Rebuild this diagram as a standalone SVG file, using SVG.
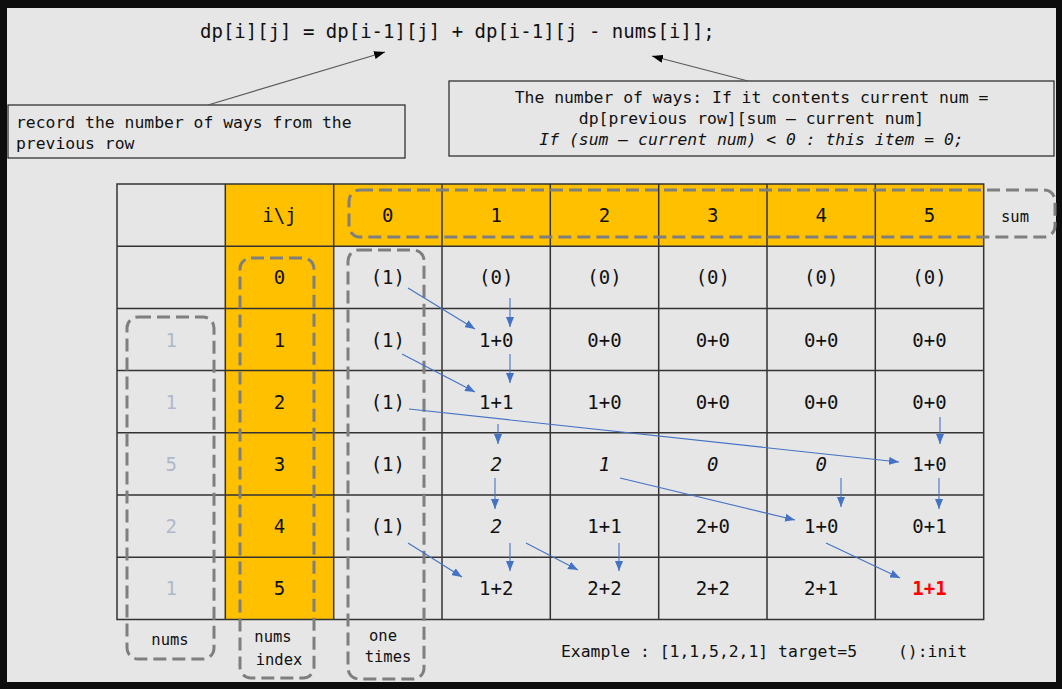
<svg xmlns="http://www.w3.org/2000/svg" width="1062" height="689" viewBox="0 0 1062 689">
<defs>
<marker id="blue" markerUnits="userSpaceOnUse" markerWidth="10" markerHeight="8" refX="10" refY="4" orient="auto"><path d="M0,0 L10,4 L0,8 z" fill="#4472c4"/></marker>
<marker id="blk" markerUnits="userSpaceOnUse" markerWidth="11" markerHeight="8" refX="11" refY="4" orient="auto"><path d="M0,0 L11,4 L0,8 z" fill="#000"/></marker>
</defs>
<style>
text{font-family:"DejaVu Sans Mono","Liberation Mono",monospace;fill:#111}
.f{font-size:19px}
.n{font-size:16.4px}
.s{font-size:15.5px}
.c{font-size:19px;text-anchor:middle}
.i{font-style:italic}
.p{fill:#adb9ca}
.m{text-anchor:middle}
.dash{fill:none;stroke:#7f7f7f;stroke-width:3;stroke-dasharray:13 6}
.box{fill:none;stroke:#333;stroke-width:1.3}
.ann{stroke:#595959;stroke-width:1.2;fill:none;marker-end:url(#blk)}
.ba{stroke:#4472c4;stroke-width:1.1;fill:none;marker-end:url(#blue)}
</style>
<rect x="0" y="0" width="1062" height="689" fill="#0d0d0d"/>
<rect x="7" y="8" width="1049" height="674" fill="#e6e6e6"/>

<g id="formula"><text class="f" x="200" y="38">dp[i][j] = dp[i-1][j] + dp[i-1][j - nums[i]];</text></g>

<g id="note-previous-row">
<rect class="box" x="8" y="105" width="397" height="53"/>
<text class="n" x="16" y="128">record the number of ways from the</text>
<text class="n" x="16" y="149">previous row</text>
</g>

<g id="note-ways">
<rect class="box" x="449" y="81" width="605" height="75"/>
<text class="n m" x="751.5" y="103">The number of ways: If it contents current num =</text>
<text class="n m" x="751.5" y="124">dp[previous row][sum – current num]</text>
<text class="n m i" x="751.5" y="145">If (sum – current num) &lt; 0 : this item = 0;</text>
</g>

<g id="table">
<rect x="225.3" y="184" width="758.4" height="62.2" fill="#ffc000"/>
<rect x="225.3" y="246.2" width="108.4" height="373.2" fill="#ffc000"/>
<path d="M117,184H983.7V619.4H117Z M225.3,184V619.4 M333.7,184V619.4 M442,184V619.4 M550.3,184V619.4 M658.7,184V619.4 M767,184V619.4 M875.3,184V619.4 M117,246.2H983.7 M117,308.4H983.7 M117,370.6H983.7 M117,432.8H983.7 M117,495H983.7 M117,557.2H983.7" fill="none" stroke="#333" stroke-width="1.5"/>
<g id="row-header">
<text class="c" x="279.5" y="222">i\j</text>
<text class="c" x="387.8" y="222">0</text>
<text class="c" x="496.2" y="222">1</text>
<text class="c" x="604.5" y="222">2</text>
<text class="c" x="712.8" y="222">3</text>
<text class="c" x="821.2" y="222">4</text>
<text class="c" x="929.5" y="222">5</text>
</g>
<g id="row-0">
<text class="c" x="279.5" y="284">0</text>
<text class="c" x="387.8" y="284">(1)</text>
<text class="c" x="496.2" y="284">(0)</text>
<text class="c" x="604.5" y="284">(0)</text>
<text class="c" x="712.8" y="284">(0)</text>
<text class="c" x="821.2" y="284">(0)</text>
<text class="c" x="929.5" y="284">(0)</text>
</g>
<g id="row-1">
<text class="c p" x="171.2" y="346.5">1</text>
<text class="c" x="279.5" y="346.5">1</text>
<text class="c" x="387.8" y="346.5">(1)</text>
<text class="c" x="496.2" y="346.5">1+0</text>
<text class="c" x="604.5" y="346.5">0+0</text>
<text class="c" x="712.8" y="346.5">0+0</text>
<text class="c" x="821.2" y="346.5">0+0</text>
<text class="c" x="929.5" y="346.5">0+0</text>
</g>
<g id="row-2">
<text class="c p" x="171.2" y="408.7">1</text>
<text class="c" x="279.5" y="408.7">2</text>
<text class="c" x="387.8" y="408.7">(1)</text>
<text class="c" x="496.2" y="408.7">1+1</text>
<text class="c" x="604.5" y="408.7">1+0</text>
<text class="c" x="712.8" y="408.7">0+0</text>
<text class="c" x="821.2" y="408.7">0+0</text>
<text class="c" x="929.5" y="408.7">0+0</text>
</g>
<g id="row-3">
<text class="c p" x="171.2" y="471">5</text>
<text class="c" x="279.5" y="471">3</text>
<text class="c" x="387.8" y="471">(1)</text>
<text class="c i" x="496.2" y="471">2</text>
<text class="c i" x="604.5" y="471">1</text>
<text class="c i" x="712.8" y="471">0</text>
<text class="c i" x="821.2" y="471">0</text>
<text class="c" x="929.5" y="471">1+0</text>
</g>
<g id="row-4">
<text class="c p" x="171.2" y="533">2</text>
<text class="c" x="279.5" y="533">4</text>
<text class="c" x="387.8" y="533">(1)</text>
<text class="c i" x="496.2" y="533">2</text>
<text class="c" x="604.5" y="533">1+1</text>
<text class="c" x="712.8" y="533">2+0</text>
<text class="c" x="821.2" y="533">1+0</text>
<text class="c" x="929.5" y="533">0+1</text>
</g>
<g id="row-5">
<text class="c p" x="171.2" y="595">1</text>
<text class="c" x="279.5" y="595">5</text>
<text class="c" x="496.2" y="595">1+2</text>
<text class="c" x="604.5" y="595">2+2</text>
<text class="c" x="712.8" y="595">2+2</text>
<text class="c" x="821.2" y="595">2+1</text>
<text class="c" x="929.5" y="595" style="fill:#ff0000;font-weight:bold">1+1</text>
</g>
</g>

<g id="group-sum">
<rect class="dash" x="349" y="190" width="706" height="47" rx="11"/>
<text class="s m" x="1015" y="222">sum</text>
</g>
<g id="group-nums">
<rect class="dash" x="127" y="317" width="87" height="342" rx="11"/>
<text class="s m" x="170" y="645">nums</text>
</g>
<g id="group-nums-index">
<rect class="dash" x="240" y="258" width="74" height="420" rx="11"/>
<text class="s m" x="273" y="642">nums</text>
<text class="s m" x="279" y="665">index</text>
</g>
<g id="group-one-times">
<rect class="dash" x="348" y="250" width="76" height="429" rx="11"/>
<text class="s m" x="383" y="641">one</text>
<text class="s m" x="388" y="662">times</text>
</g>

<g id="legend">
<text class="n" x="561" y="657">Example : [1,1,5,2,1] target=5</text>
<text class="n" x="898" y="657">():init</text>
</g>

<g id="connectors">
<path class="ann" d="M208,105 L385,52"/>
<path class="ann" d="M748,81 L652,56"/>
<path class="ba" d="M408,288 L475,329"/>
<path class="ba" d="M510,298 V327"/>
<path class="ba" d="M402,354 L475,392"/>
<path class="ba" d="M510,354 V383"/>
<path class="ba" d="M409,409 L899,462"/>
<path class="ba" d="M940,417 V444"/>
<path class="ba" d="M498,424 V444"/>
<path class="ba" d="M495,478 V509"/>
<path class="ba" d="M408,543 L462,577"/>
<path class="ba" d="M510,543 V571"/>
<path class="ba" d="M526,543 L578,570"/>
<path class="ba" d="M619,543 V571"/>
<path class="ba" d="M620,478 L795,520"/>
<path class="ba" d="M841,478 V507"/>
<path class="ba" d="M939,478 V509"/>
<path class="ba" d="M826,543 L900,578"/>
</g>
</svg>
